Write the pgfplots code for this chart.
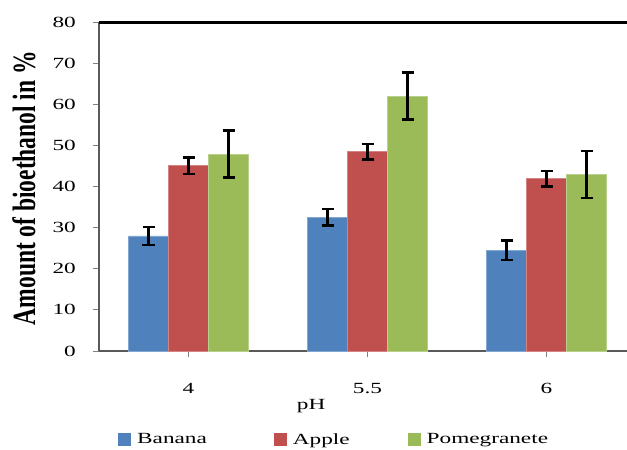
\documentclass[border=0pt]{standalone}
\usepackage{pgfplots}
\pgfplotsset{compat=1.18}
\usepackage{graphicx}
\usepackage{fontspec}
\setmainfont{Liberation Serif}[FakeStretch=1.5]
\newfontfamily\ylfont{Liberation Serif}
\definecolor{cBan}{HTML}{4F81BD}
\definecolor{cApp}{HTML}{C0504D}
\definecolor{cPom}{HTML}{9BBB59}
\definecolor{axgray}{HTML}{7F7F7F}
\pgfplotsset{
  errstyle/.style={error bars/.cd, y dir=both, y explicit,
    error bar style={black, line width=2.4bp},
    error mark options={black, line width=2.4bp, mark size=6bp, rotate=90}},
  sqlegend/.style={legend image code/.code={\path[##1,draw=none] (0bp,-6.5bp) rectangle (13bp,6.5bp);}}
}
\begin{document}
\fontsize{15.5bp}{18bp}\selectfont
\begin{tikzpicture}
\useasboundingbox (0,0) rectangle (627bp,450bp);
\begin{axis}[
  at={(99bp,99bp)}, anchor=south west,
  scale only axis, width=537bp, height=329bp,
  xmin=-0.5, xmax=2.5, ymin=0, ymax=80,
  ybar=0pt, bar width=40bp,
  clip=false,
  axis x line*=bottom, axis y line*=left,
  axis line style={-, axgray!70!black, line width=2.4bp},
  xtick={0,1,2}, xticklabels={4,5.5,6},
  ytick={0,10,...,80},
  tick align=outside, major tick length=6bp,
  tick style={axgray, line width=1bp},
  /pgf/number format/assume math mode=true,
  yticklabel style={anchor=east, inner sep=0pt, xshift=-17bp},
  xticklabel style={anchor=north, inner sep=0pt, yshift=-26bp},
  xlabel={pH},
  xlabel style={at={(axis description cs:0.395,-0.166)}, anchor=center},
  ylabel={\scalebox{1}[1.38]{\ylfont\bfseries\fontsize{23.5bp}{27bp}\selectfont Amount of bioethanol in \%}},
  ylabel style={at={(axis description cs:-0.14,0.495)}, anchor=center},
  legend columns=3,
  legend style={draw=none, fill=none, inner sep=0pt,
    at={(axis description cs:0.0354,-0.27)}, anchor=west,
    /tikz/every odd column/.append style={column sep=4bp},
    /tikz/column 2/.style={column sep=65bp},
    /tikz/column 4/.style={column sep=56bp}},
]
\addplot[fill=cBan, draw=cBan!70!white, line width=0.5bp, sqlegend, errstyle]
  coordinates {(0,28.0) +- (0,2.2) (1,32.5) +- (0,2.0) (2,24.5) +- (0,2.4)};
\addplot[fill=cApp, draw=cApp!70!white, line width=0.5bp, sqlegend, errstyle]
  coordinates {(0,45.1) +- (0,2.0) (1,48.5) +- (0,1.9) (2,41.9) +- (0,1.9)};
\addplot[fill=cPom, draw=cPom!70!white, line width=0.5bp, sqlegend, errstyle]
  coordinates {(0,47.9) +- (0,5.7) (1,62.0) +- (0,5.75) (2,42.9) +- (0,5.75)};
\legend{Banana, Apple, Pomegranete}
\draw[black, line width=3bp] (rel axis cs:0,1) -- (rel axis cs:1,1);
\end{axis}
\end{tikzpicture}
\end{document}
